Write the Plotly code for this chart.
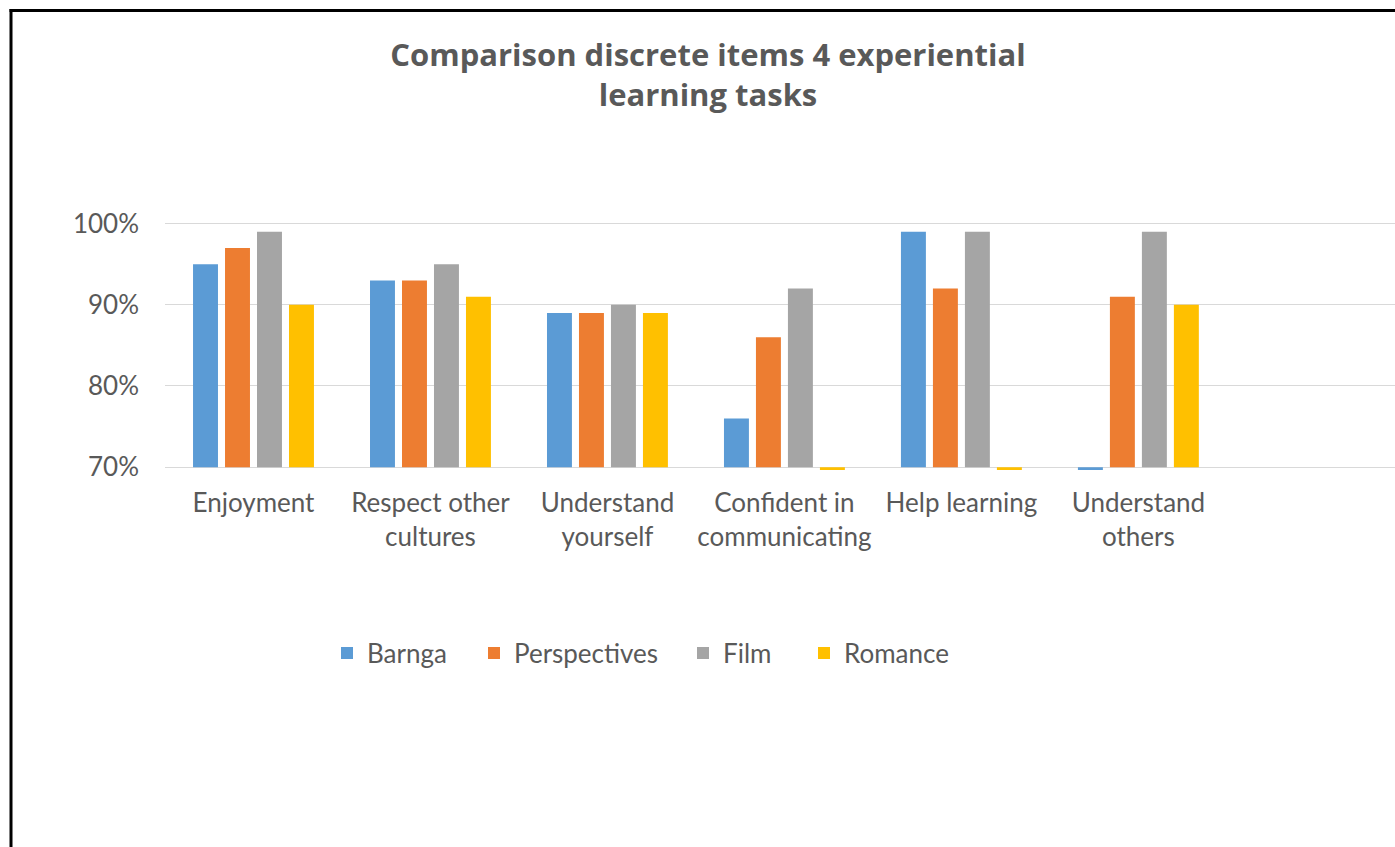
import plotly.graph_objects as go

categories = ["Enjoyment", "Respect other<br>cultures", "Understand<br>yourself",
              "Confident in<br>communicating", "Help learning", "Understand<br>others"]
series_names = ["Barnga", "Perspectives", "Film", "Romance"]
barnga = [0.95, 0.93, 0.89, 0.76, 0.99, 0.0]
perspectives = [0.97, 0.93, 0.89, 0.86, 0.92, 0.91]
film = [0.99, 0.95, 0.90, 0.92, 0.99, 0.99]
romance = [0.90, 0.91, 0.89, 0.0, 0.0, 0.90]
y_ticks = [0.7, 0.8, 0.9, 1.0]
y_tick_labels = ["70%", "80%", "90%", "100%"]

colors = ["#5B9BD5", "#ED7D31", "#A5A5A5", "#FFC000"]
legend_widths = [102, 164, 76, 110]
AXIS_MIN = 0.70
FONT = "Lato"
TXT = "#595959"

fig = go.Figure()
for name, vals, col, lw in zip(series_names, [barnga, perspectives, film, romance], colors, legend_widths):
    fig.add_trace(go.Bar(
        name=name,
        x=list(range(len(categories))),
        y=[v - AXIS_MIN for v in vals],
        base=AXIS_MIN,
        marker=dict(color=col, line=dict(width=0)),
        legendwidth=lw,
        customdata=vals,
        hovertemplate="%{customdata:.0%}<extra>" + name + "</extra>",
    ))

W, H = 1395, 847
L, R, T, B = 165, 0, 222, 377
pw, ph = W - L - R, H - T - B

def px_x(p):
    return (p - L) / pw

def px_y(p):
    return (H - B - p) / ph

border = dict(color="black", width=3)
fig.update_layout(
    width=W, height=H,
    margin=dict(l=L, r=R, t=T, b=B, pad=0),
    paper_bgcolor="white", plot_bgcolor="white",
    barmode="group", bargap=0.277, bargroupgap=0.22,
    font=dict(family=FONT, color=TXT, size=26),
    title=dict(
        text="<b>Comparison discrete items 4 experiential<br>learning tasks</b>",
        x=708 / W, xref="container", xanchor="center",
        y=1 - 66 / H, yref="container", yanchor="top",
        font=dict(family="Open Sans", size=31, color=TXT),
    ),
    xaxis=dict(
        range=[-0.5, 6.45],
        tickvals=list(range(len(categories))), ticktext=categories,
        showgrid=False, zeroline=False, showline=False, ticks="",
        tickfont=dict(size=26, color=TXT), ticklabelstandoff=15,
    ),
    yaxis=dict(
        range=[0.6965, 1.002],
        tickvals=y_ticks, ticktext=y_tick_labels,
        showgrid=True, gridcolor="#D9D9D9", gridwidth=1,
        zeroline=False, showline=False, ticks="",
        tickfont=dict(size=26, color=TXT), ticklabelstandoff=25,
    ),
    showlegend=True,
    legend=dict(
        orientation="h", xref="container", yref="container",
        x=327 / W, xanchor="left", y=1 - 653 / H, yanchor="middle",
        font=dict(size=26, color=TXT), bgcolor="rgba(0,0,0,0)",
        traceorder="normal",
    ),
    shapes=[
        dict(type="line", xref="paper", yref="paper",
             x0=px_x(11), x1=px_x(11), y0=px_y(9), y1=px_y(H), line=border, layer="above"),
        dict(type="line", xref="paper", yref="paper",
             x0=px_x(9.5), x1=px_x(W), y0=px_y(10.5), y1=px_y(10.5), line=border, layer="above"),
    ],
)

fig.write_html(
    "out.html",
    config={"displayModeBar": False, "staticPlot": True},
    post_script="document.documentElement.style.overflow='hidden';"
                "document.body.style.overflow='hidden';document.body.style.margin='0';",
)
